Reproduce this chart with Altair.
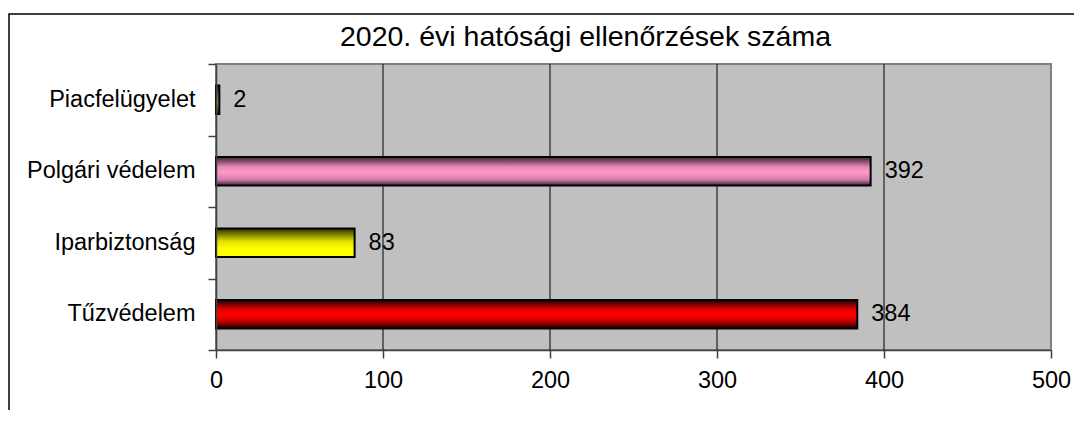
import altair as alt
import pandas as pd

# ---- data ----
categories = ["Piacfelügyelet", "Polgári védelem", "Iparbiztonság", "Tűzvédelem"]
values = [2, 392, 83, 384]
x_ticks = [0, 100, 200, 300, 400, 500]
y_boundaries = [0, 1, 2, 3, 4]
title_text = "2020. évi hatósági ellenőrzések száma"

# ---- styles ----
FONT = "Liberation Sans"
bar_gradients = {
    "Piacfelügyelet": [(0, "#1a2a0a"), (0.45, "#6aa038"), (0.6, "#74ad40"), (1, "#1a2a0a")],
    "Polgári védelem": [(0, "#3a2030"), (0.35, "#e888ba"), (0.55, "#ff99cc"), (0.8, "#d07aa8"), (1, "#3a2030")],
    "Iparbiztonság": [(0, "#2a2a00"), (0.45, "#e0e000"), (0.7, "#ffff00"), (1, "#ffff00")],
    "Tűzvédelem": [(0, "#140000"), (0.3, "#d80000"), (0.5, "#ff0000"), (0.72, "#d00000"), (1, "#140000")],
}

df = pd.DataFrame({"cat": categories, "val": values})

xscale = alt.Scale(domain=[0, 500], nice=False, zero=True)
yscale = alt.Scale(domain=categories, paddingInner=0.6, paddingOuter=0.3)

xaxis = alt.Axis(
    values=x_ticks, title=None, grid=False,
    tickSize=8, labelPadding=10, labelFontSize=23.5, labelFont=FONT,
    labelColor="black", domainColor="#404040", domainWidth=1.5,
    tickColor="#404040", tickWidth=1.5, labelFlush=False, zindex=1,
)
xenc = alt.X("val:Q", scale=xscale, axis=xaxis)
yenc = alt.Y(
    "cat:N",
    scale=yscale,
    sort=categories,
    axis=alt.Axis(
        title=None, ticks=False, tickSize=0, labelPadding=21, labelFontSize=23.5,
        labelFont=FONT, labelColor="black", domainColor="#404040", domainWidth=1.5,
        zindex=1,
    ),
)

# plot-area background with gray border
background = (
    alt.Chart(pd.DataFrame({"f": [0]}))
    .mark_rect(fill="#C0C0C0", stroke="#808080", strokeWidth=2)
    .encode(x=alt.value(0), x2=alt.value("width"), y=alt.value(0), y2=alt.value("height"))
)

# vertical grid lines (inner ticks only)
grid = (
    alt.Chart(pd.DataFrame({"t": x_ticks}))
    .transform_filter((alt.datum.t > 0) & (alt.datum.t < 500))
    .mark_rule(color="black", strokeWidth=1)
    .encode(x=alt.X("t:Q", scale=xscale, axis=xaxis))
)

bar_layers = []
for cat in categories:
    stops = [alt.GradientStop(offset=o, color=c) for o, c in bar_gradients[cat]]
    grad = alt.LinearGradient(gradient="linear", stops=stops, x1=0, x2=0, y1=0, y2=1)
    bar_layers.append(
        alt.Chart(df)
        .transform_filter(alt.datum.cat == cat)
        .mark_bar(fill=grad, stroke="black", strokeWidth=2)
        .encode(x=xenc, y=yenc)
    )

labels = (
    alt.Chart(df)
    .mark_text(align="left", baseline="middle", dx=14, fontSize=23.5, font=FONT, color="black")
    .encode(x=xenc, y=yenc, text="val:Q")
)

inner = alt.layer(grid, *bar_layers, labels)

tick_layer = (
    alt.Chart(pd.DataFrame({"b": y_boundaries}))
    .mark_point(opacity=0)
    .encode(
        y=alt.Y(
            "b:Q",
            scale=alt.Scale(domain=[0, 4], nice=False, zero=False),
            axis=alt.Axis(
                orient="left", values=y_boundaries, labels=False, title=None,
                domain=False, grid=False, ticks=True, tickSize=8,
                tickColor="#404040", tickWidth=1.5, zindex=1,
            ),
        )
    )
)

frame = (
    alt.Chart(pd.DataFrame({"f": [0]}))
    .mark_rect(filled=False, stroke="black", strokeWidth=1.5)
    .encode(x=alt.value(-207), x2=alt.value(1300), y=alt.value(-50), y2=alt.value(700))
)

chart = (
    alt.layer(frame, background, inner, tick_layer)
    .resolve_scale(y="independent")
    .properties(
        width=835,
        height=286,
        title=alt.TitleParams(
            title_text, fontSize=28.5, font=FONT, fontWeight="normal", color="black",
            anchor="middle", dx=-48, offset=-61, baseline="alphabetic",
        ),
        autosize=alt.AutoSizeParams(type="none"),
        padding={"left": 208, "top": 56, "right": 23, "bottom": 60},
    )
    .configure_view(strokeWidth=0)
    .configure(background="white")
)

chart.save("out.html", embed_options={"renderer": "svg", "actions": False})
